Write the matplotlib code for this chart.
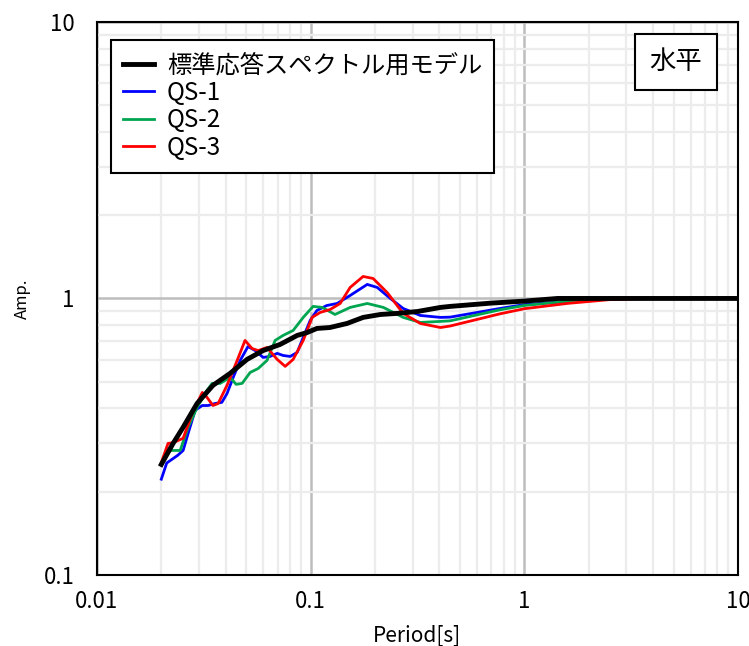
import numpy as np
import matplotlib.pyplot as plt
from matplotlib.ticker import FixedLocator, NullFormatter, LogLocator

# Data (period [s], amplitude)
std_period = [0.0200, 0.0227, 0.0253, 0.0294, 0.0349, 0.0420, 0.0504, 0.0599,
              0.0720, 0.0865, 0.0963, 0.107, 0.123, 0.148, 0.176, 0.212,
              0.254, 0.316, 0.405, 0.450, 0.70, 1.0, 1.43, 3.0, 10.0]
std_amp = [0.251, 0.299, 0.342, 0.417, 0.485, 0.536, 0.602, 0.648,
           0.682, 0.735, 0.753, 0.779, 0.785, 0.812, 0.854, 0.875,
           0.883, 0.897, 0.928, 0.936, 0.962, 0.978, 1.0, 1.0, 1.0]

qs1_period = [0.0200, 0.0212, 0.0239, 0.0253, 0.0267, 0.0288, 0.0311, 0.0331,
              0.0357, 0.0384, 0.0406, 0.0434, 0.0468, 0.0509, 0.0550, 0.0599,
              0.0646, 0.0697, 0.0743, 0.0802, 0.0865, 0.0923, 0.0995, 0.107,
              0.119, 0.133, 0.153, 0.184, 0.205, 0.236, 0.271, 0.326, 0.405,
              0.450, 0.77, 1.0, 1.64, 3.0, 10.0]
qs1_amp = [0.222, 0.254, 0.271, 0.282, 0.325, 0.394, 0.410, 0.410,
           0.417, 0.421, 0.453, 0.518, 0.597, 0.670, 0.648, 0.612,
           0.617, 0.633, 0.622, 0.617, 0.638, 0.723, 0.833, 0.905,
           0.943, 0.959, 1.025, 1.124, 1.096, 1.0, 0.920, 0.868, 0.854,
           0.856, 0.92, 0.95, 0.978, 1.0, 1.0]

qs2_period = [0.0200, 0.0220, 0.0245, 0.0267, 0.0294, 0.0327, 0.0346, 0.0377,
              0.0420, 0.0448, 0.0478, 0.0521, 0.0568, 0.0625, 0.0682, 0.0743,
              0.0828, 0.0923, 0.1027, 0.1132, 0.130, 0.153, 0.184, 0.219,
              0.271, 0.326, 0.405, 0.450, 0.77, 1.0, 1.6, 3.0, 10.0]
qs2_amp = [0.254, 0.282, 0.282, 0.342, 0.403, 0.465, 0.493, 0.493,
           0.518, 0.489, 0.493, 0.540, 0.558, 0.597, 0.705, 0.735,
           0.766, 0.854, 0.936, 0.928, 0.875, 0.928, 0.959, 0.928,
           0.854, 0.819, 0.826, 0.830, 0.91, 0.943, 0.978, 1.0, 1.0]

qs3_period = [0.0200, 0.0215, 0.0227, 0.0253, 0.0279, 0.0311, 0.0327, 0.0349,
              0.0369, 0.0406, 0.0453, 0.0493, 0.0532, 0.0568, 0.0625, 0.0697,
              0.0760, 0.0828, 0.0923, 0.1016, 0.1108, 0.1233, 0.1374, 0.153,
              0.176, 0.196, 0.228, 0.271, 0.326, 0.405, 0.450, 0.77, 1.0,
              1.6, 2.5, 4.0, 10.0]
qs3_amp = [0.255, 0.299, 0.301, 0.312, 0.384, 0.457, 0.439, 0.410,
           0.417, 0.485, 0.597, 0.705, 0.659, 0.648, 0.665, 0.602,
           0.568, 0.602, 0.705, 0.854, 0.890, 0.912, 0.959, 1.096,
           1.201, 1.181, 1.051, 0.883, 0.812, 0.785, 0.795, 0.88, 0.918,
           0.96, 0.99, 1.0, 1.0]

labels = ['標準応答スペクトル用モデル', 'QS-1', 'QS-2', 'QS-3']
colors = ['#000000', '#0000ff', '#00a550', '#ff0000']
x_ticks = [0.01, 0.1, 1, 10]
x_ticklabels = ['0.01', '0.1', '1', '10']
y_ticks = [0.1, 1, 10]
y_ticklabels = ['0.1', '1', '10']

plt.rcParams['font.family'] = ['Noto Sans CJK JP', 'DejaVu Sans']

fig = plt.figure(figsize=(7.49, 6.46), dpi=100)
ax = fig.add_axes([0.1295, 0.110, 0.8558, 0.856])
ax.set_xscale('log')
ax.set_yscale('log')
ax.set_xlim(0.01, 10)
ax.set_ylim(0.1, 10)

# grid: light minor, grey major
ax.xaxis.set_minor_locator(LogLocator(base=10, subs=np.arange(2, 10)))
ax.yaxis.set_minor_locator(LogLocator(base=10, subs=np.arange(2, 10)))
ax.xaxis.set_minor_formatter(NullFormatter())
ax.yaxis.set_minor_formatter(NullFormatter())
ax.grid(True, which='minor', color='#ececec', linewidth=1.6)
ax.grid(True, which='major', color='#bdbdbd', linewidth=1.8)
ax.set_axisbelow(True)

ax.xaxis.set_major_locator(FixedLocator(x_ticks))
ax.yaxis.set_major_locator(FixedLocator(y_ticks))
ax.set_xticklabels(x_ticklabels)
ax.set_yticklabels(y_ticklabels)
ax.tick_params(which='both', length=0)
ax.tick_params(axis='x', labelsize=16, pad=11)
ax.tick_params(axis='y', labelsize=16, pad=16)

for s in ax.spines.values():
    s.set_linewidth(1.5)
    s.set_color('black')

ax.plot(qs1_period, qs1_amp, color=colors[1], lw=2.0, label=labels[1], zorder=3)
ax.plot(qs2_period, qs2_amp, color=colors[2], lw=2.0, label=labels[2], zorder=3)
ax.plot(qs3_period, qs3_amp, color=colors[3], lw=2.0, label=labels[3], zorder=3)
ax.plot(std_period, std_amp, color=colors[0], lw=3.5, label=labels[0], zorder=4)

ax.set_xlabel('Period[s]', fontsize=15, labelpad=8)
ax.set_ylabel('Amp.', fontsize=12, labelpad=9)

handles, labs = ax.get_legend_handles_labels()
order = [3, 0, 1, 2]
leg = ax.legend([handles[i] for i in order], [labs[i] for i in order],
                loc='upper left', bbox_to_anchor=(0.022, 0.967), fontsize=17.5,
                fancybox=False, framealpha=1, edgecolor='black',
                handlelength=1.25, labelspacing=0.06, borderpad=0.5,
                handletextpad=0.55, borderaxespad=0)
leg.get_frame().set_linewidth(1.5)

ax.text(0.903, 0.928, '水平', transform=ax.transAxes, fontsize=19,
        ha='center', va='center',
        bbox=dict(boxstyle='square,pad=0.55', fc='white', ec='black', lw=1.5))

fig.savefig('out.png', dpi=100)
